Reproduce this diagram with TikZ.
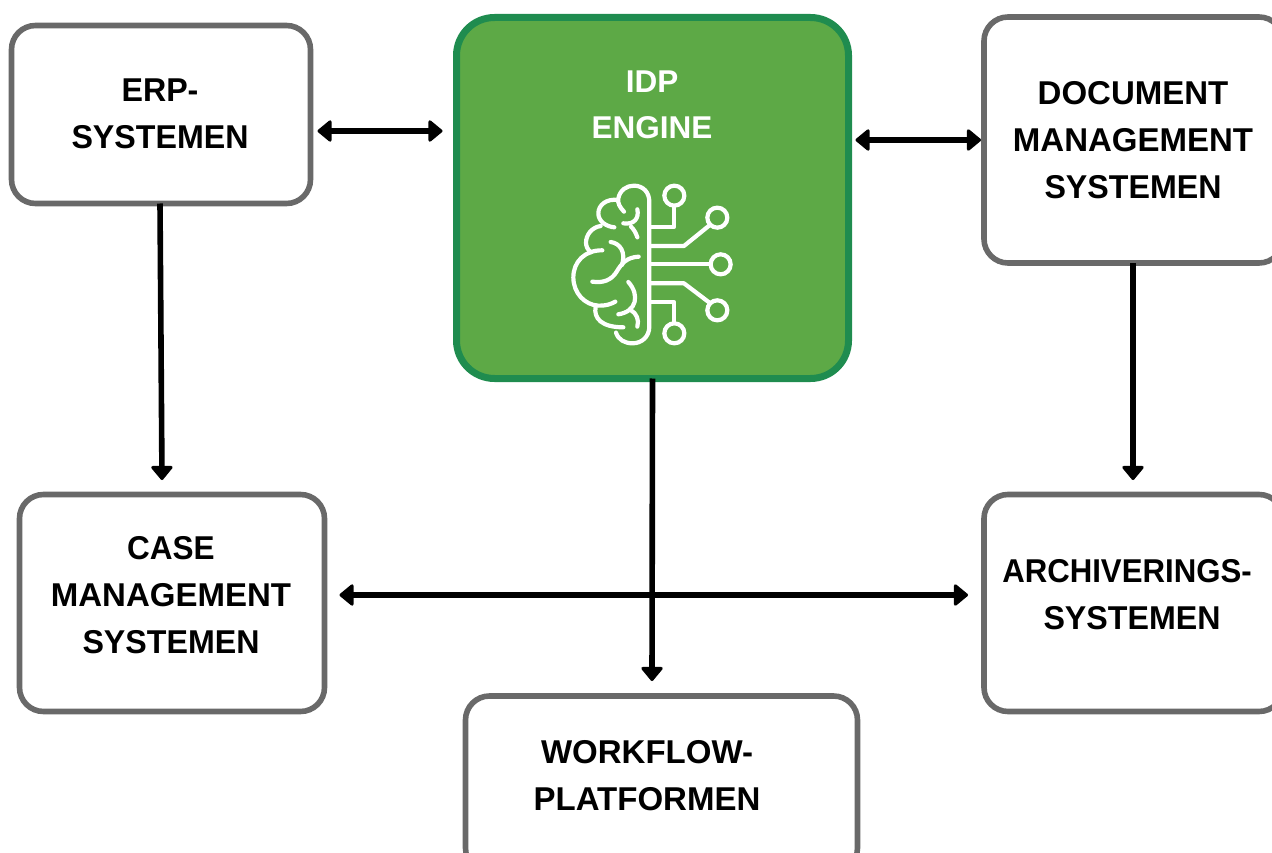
\documentclass[tikz,border=0pt]{standalone}
\usepackage{fontspec}
\setmainfont{Liberation Sans}
\usetikzlibrary{arrows.meta}
\definecolor{boxgray}{HTML}{696969}
\definecolor{idpfill}{HTML}{5DA946}
\definecolor{idpline}{HTML}{1F8C4F}
\newcommand{\nrw}[2][.975]{\scalebox{#1}[1]{#2}}
\tikzset{
  sysbox/.style={draw=boxgray,line width=5.6pt,rounded corners=24pt,fill=white,inner sep=0pt,outer sep=0pt},
  idpbox/.style={draw=idpline,line width=7pt,rounded corners=38pt,fill=idpfill,inner sep=0pt,outer sep=0pt},
  syslabel/.style={align=center,inner sep=0pt,font=\fontsize{33}{47}\selectfont\bfseries,text=black},
  idplabel/.style={align=center,inner sep=0pt,font=\fontsize{31.5}{46}\selectfont\bfseries,text=white},
  conn/.style={line width=5.6pt,draw=black},
  oneway/.style={conn,-{Triangle[length=15pt,width=24pt,line width=3pt,round]}},
  twoway/.style={conn,{Triangle[length=15pt,width=24pt,line width=3pt,round]}-{Triangle[length=15pt,width=24pt,line width=3pt,round]}},
  brain/.style={draw=white,line width=4.2pt,line cap=round,line join=round},
  port/.style={draw=white,line width=4.2pt,circle,minimum size=20pt,inner sep=0pt,outer sep=0pt},
}
\begin{document}
\begin{tikzpicture}[x=1pt,y=-1pt]
\useasboundingbox (0,0) rectangle (1272,853);
\clip (0,0) rectangle (1272,853);
% boxes
\node[sysbox,minimum width=299pt,minimum height=178pt] (erp) at (161,114.5) {};
\node[idpbox,minimum width=392pt,minimum height=361pt] (idp) at (652.5,198) {};
\node[sysbox,minimum width=299pt,minimum height=246pt] (dms) at (1133.5,140) {};
\node[sysbox,minimum width=305pt,minimum height=217pt] (case) at (172,603) {};
\node[sysbox,minimum width=299pt,minimum height=217pt] (arch) at (1133.5,603) {};
\node[sysbox,minimum width=392pt,minimum height=176pt] (flow) at (661.5,784) {};
% labels
\node[syslabel] (erpt) at (160,114) {\nrw{ERP-}\\\nrw{SYSTEMEN}};
\node[idplabel] (idpt) at (652,105) {IDP\\ENGINE};
\node[syslabel] (dmst) at (1133,140) {DOCUMENT\\MANAGEMENT\\\nrw{SYSTEMEN}};
\node[syslabel] (caset) at (171,595) {\nrw[.955]{CASE}\\MANAGEMENT\\\nrw{SYSTEMEN}};
\node[syslabel] (archt) at (1127,594.5) {\nrw[.945]{ARCHIVERINGS-}\\\hspace*{10pt}\nrw{SYSTEMEN}};
\node[syslabel] (flowt) at (647,775.5) {WORKFLOW-\\PLATFORMEN};
% connectors
\coordinate (erpout) at (erp.south -| 160,0);
\coordinate (casein) at (162,480);
\draw[oneway] (erpout) -- (casein);
\draw[twoway,shorten <=7pt,shorten >=14pt] ([yshift=-16.5pt]erp.east) -- (idp.west |- 0,131);
\draw[twoway,shorten <=7pt,shorten >=3pt] (idp.east |- 0,140) -- (dms.west);
\coordinate (archin) at (1133,480);
\draw[oneway] (dms.south -| 1133,0) -- (archin);
\draw[twoway,shorten <=15pt,shorten >=16pt] (case.east |- 0,595) -- (arch.west |- 0,595);
\coordinate (flowin) at (652,681);
\draw[oneway] (idp.south) -- (flowin);
% brain icon
\begin{scope}[shift={(560,170)},x=0.3333pt,y=-0.3333pt]
\draw[brain] (192,125) .. controls (180,112) and (172,100) .. (175,85)
  .. controls (180,60) and (200,47) .. (222,47)
  .. controls (250,47) and (268,68) .. (268,95) -- (268,470)
  .. controls (268,500) and (245,520) .. (218,520)
  .. controls (195,520) and (175,510) .. (168,488);
\draw[brain] (174,90) .. controls (140,85) and (115,105) .. (115,130)
  .. controls (115,155) and (140,170) .. (163,172);
\draw[brain] (122,168) .. controls (95,172) and (78,195) .. (78,218)
  .. controls (78,228) and (83,240) .. (93,247);
\draw[brain] (127,241) .. controls (75,240) and (40,275) .. (40,322)
  .. controls (40,370) and (75,405) .. (115,407)
  .. controls (135,408) and (152,403) .. (166,395);
\draw[brain] (107,410) .. controls (100,445) and (125,472) .. (190,472);
\draw[brain] (232,118) .. controls (238,145) and (222,165) .. (190,160);
\draw[brain] (213,170) .. controls (222,178) and (228,190) .. (232,202);
\draw[brain] (152,216) .. controls (180,220) and (198,245) .. (186,285);
\draw[brain] (236,260) .. controls (200,262) and (185,280) .. (170,305)
  .. controls (155,330) and (130,340) .. (97,335);
\draw[brain] (205,336) .. controls (240,375) and (230,425) .. (175,433);
\draw[brain] (212,420) .. controls (230,430) and (238,450) .. (232,470);
\node[port] (c1) at (343,77) {};
\node[port] (c2) at (472,143) {};
\node[port] (c3) at (482,283) {};
\node[port] (c4) at (472,421) {};
\node[port] (c5) at (343,490) {};
\draw[brain,line cap=butt] (268,170) -- (343,170) -- (c1.south);
\draw[brain,line cap=butt] (268,228) -- (372,228) -- (c2.south west);
\draw[brain,line cap=butt] (268,283) -- (c3.west);
\draw[brain,line cap=butt] (268,340) -- (372,340) -- (c4.north west);
\draw[brain,line cap=butt] (268,397) -- (343,397) -- (c5.north);
\end{scope}
\end{tikzpicture}
\end{document}
